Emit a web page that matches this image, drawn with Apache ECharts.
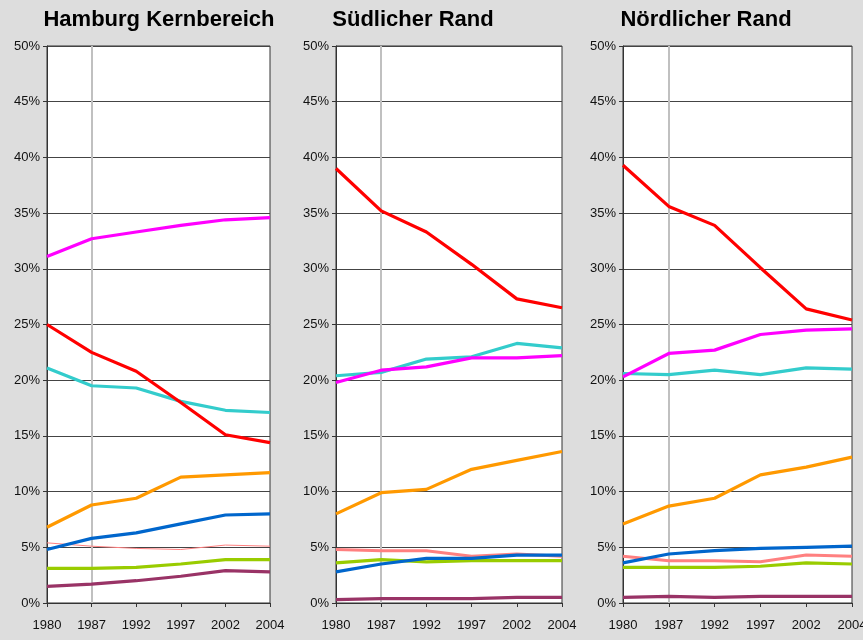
<!DOCTYPE html>
<html>
<head>
<meta charset="utf-8">
<script src="https://cdn.jsdelivr.net/npm/echarts@6/dist/echarts.min.js"></script>
<style>
  html, body { margin: 0; padding: 0; background: #dddddd; overflow: hidden; }
  #chart { width: 863px; height: 640px; }
</style>
</head>
<body>
<div id="chart"></div>
<script>
// categories
const years = ['1980', '1987', '1992', '1997', '2002', '2004'];
const panelTitles = ['Hamburg Kernbereich', 'Südlicher Rand', 'Nördlicher Rand'];

// Hamburg Kernbereich (%)
const kernMagenta = [31.1, 32.7, 33.3, 33.9, 34.4, 34.6];
const kernRed     = [25.0, 22.5, 20.8, 18.0, 15.1, 14.4];
const kernCyan    = [21.1, 19.5, 19.3, 18.1, 17.3, 17.1];
const kernOrange  = [6.8, 8.8, 9.4, 11.3, 11.5, 11.7];
const kernBlue    = [4.8, 5.8, 6.3, 7.1, 7.9, 8.0];
const kernPink    = [5.4, 5.1, 4.9, 4.8, 5.2, 5.1];
const kernGreen   = [3.1, 3.1, 3.2, 3.5, 3.9, 3.9];
const kernPurple  = [1.5, 1.7, 2.0, 2.4, 2.9, 2.8];

// Südlicher Rand (%)
const suedRed     = [39.0, 35.2, 33.3, 30.4, 27.3, 26.5];
const suedCyan    = [20.4, 20.7, 21.9, 22.1, 23.3, 22.9];
const suedMagenta = [19.8, 20.9, 21.2, 22.0, 22.0, 22.2];
const suedOrange  = [8.0, 9.9, 10.2, 12.0, 12.8, 13.6];
const suedPink    = [4.8, 4.7, 4.7, 4.2, 4.4, 4.2];
const suedBlue    = [2.8, 3.5, 4.0, 4.0, 4.3, 4.3];
const suedGreen   = [3.6, 3.9, 3.7, 3.8, 3.8, 3.8];
const suedPurple  = [0.3, 0.4, 0.4, 0.4, 0.5, 0.5];

// Nördlicher Rand (%)
const noerdRed     = [39.3, 35.6, 33.9, 30.1, 26.4, 25.4];
const noerdMagenta = [20.3, 22.4, 22.7, 24.1, 24.5, 24.6];
const noerdCyan    = [20.6, 20.5, 20.9, 20.5, 21.1, 21.0];
const noerdOrange  = [7.1, 8.7, 9.4, 11.5, 12.2, 13.1];
const noerdBlue    = [3.6, 4.4, 4.7, 4.9, 5.0, 5.1];
const noerdPink    = [4.2, 3.8, 3.8, 3.7, 4.3, 4.2];
const noerdGreen   = [3.2, 3.2, 3.2, 3.3, 3.6, 3.5];
const noerdPurple  = [0.5, 0.6, 0.5, 0.6, 0.6, 0.6];

// y axis ticks
const yMin = 0;
const yMax = 50;
const yStep = 5;

const colors = {
  purple: '#993366', green: '#99cc00', pink: '#ff8080', blue: '#0066cc',
  orange: '#ff9900', cyan: '#33cccc', red: '#ff0000', magenta: '#ff00ff'
};

const panels = [
  { purple: kernPurple, green: kernGreen, pink: kernPink, blue: kernBlue,
    orange: kernOrange, cyan: kernCyan, red: kernRed, magenta: kernMagenta, pinkWidth: 1 },
  { purple: suedPurple, green: suedGreen, pink: suedPink, blue: suedBlue,
    orange: suedOrange, cyan: suedCyan, red: suedRed, magenta: suedMagenta, pinkWidth: 3 },
  { purple: noerdPurple, green: noerdGreen, pink: noerdPink, blue: noerdBlue,
    orange: noerdOrange, cyan: noerdCyan, red: noerdRed, magenta: noerdMagenta, pinkWidth: 3 }
];

const gridPos = [
  { left: 47, width: 223, center: 154 },
  { left: 336, width: 226, center: 408 },
  { left: 623, width: 229, center: 701 }
];

const font = 'Liberation Sans, Arial, sans-serif';
const chart = echarts.init(document.getElementById('chart'));

const titles = [], grids = [], xAxes = [], yAxes = [], series = [];
const order = ['purple', 'green', 'pink', 'blue', 'orange', 'cyan', 'magenta', 'red'];

panels.forEach((p, i) => {
  const g = gridPos[i];
  titles.push({
    text: panelTitles[i],
    left: g.center, top: 4, textAlign: 'center',
    textStyle: { fontFamily: font, fontSize: 22, fontWeight: 'bold', color: '#000' }
  });
  grids.push({
    left: g.left, width: g.width, top: 46, height: 557,
    outerBoundsMode: 'none', containLabel: false,
    show: true, backgroundColor: '#ffffff', borderColor: '#333', borderWidth: 1
  });
  xAxes.push({
    type: 'category', gridIndex: i, data: years, boundaryGap: false,
    axisLine: { lineStyle: { color: '#333', width: 1 } },
    axisTick: { show: true, length: 4, lineStyle: { color: '#333' } },
    axisLabel: { color: '#111', fontSize: 13, margin: 16, fontFamily: font,
      showMaxLabel: true, showMinLabel: true, hideOverlap: false },
    splitLine: { show: true, interval: (idx) => idx === 1, lineStyle: { color: '#c0c0c0', width: 2 } }
  });
  yAxes.push({
    type: 'value', gridIndex: i, min: yMin, max: yMax, interval: yStep,
    axisLine: { show: true, lineStyle: { color: '#333', width: 1 } },
    axisTick: { show: true, length: 4, lineStyle: { color: '#333' } },
    axisLabel: { color: '#111', fontSize: 13, margin: 7, formatter: '{value}%', fontFamily: font },
    splitLine: { show: true, lineStyle: { color: '#444', width: 1 } }
  });
  order.forEach(key => {
    series.push({
      type: 'line', xAxisIndex: i, yAxisIndex: i, data: p[key],
      symbol: 'none', animation: false,
      lineStyle: { color: colors[key], width: key === 'pink' ? p.pinkWidth : 3.2 },
      itemStyle: { color: colors[key] }
    });
  });
});

chart.setOption({
  backgroundColor: '#dddddd',
  animation: false,
  title: titles,
  grid: grids,
  xAxis: xAxes,
  yAxis: yAxes,
  series: series
});
</script>
</body>
</html>
